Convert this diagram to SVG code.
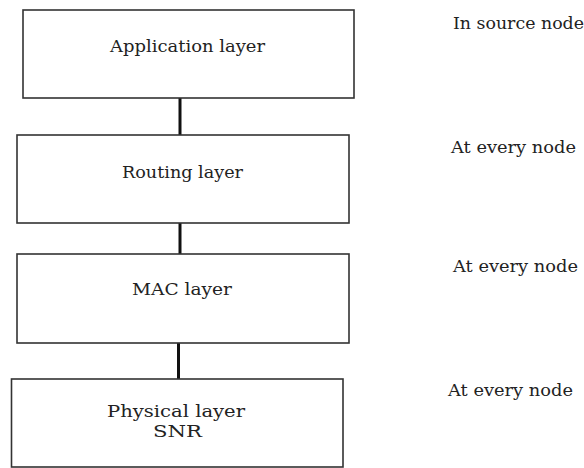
<svg xmlns="http://www.w3.org/2000/svg" width="584" height="468" viewBox="0 0 584 468">
  <style>
    .box { fill: #ffffff; stroke: #333333; stroke-width: 1.6; }
    .link { stroke: #111111; stroke-width: 3; fill: none; }
    text { font-family: 'DejaVu Serif', 'Liberation Serif', serif; font-size: 16.5px; fill: #222222; }
  </style>
  <rect x="0" y="0" width="584" height="468" fill="#ffffff"/>

  <!-- vertical links between the protocol layers -->
  <g id="connectors">
    <line class="link" x1="180" y1="98" x2="180" y2="135"/>
    <line class="link" x1="180" y1="223" x2="180" y2="254"/>
    <line class="link" x1="178.5" y1="343" x2="178.5" y2="379"/>
  </g>

  <g id="application">
    <rect class="box" x="23" y="10" width="331" height="88"/>
    <text x="110" y="52" textLength="155" lengthAdjust="spacingAndGlyphs">Application layer</text>
  </g>

  <g id="routing">
    <rect class="box" x="17" y="135" width="332" height="88"/>
    <text x="122" y="178" textLength="121" lengthAdjust="spacingAndGlyphs">Routing layer</text>
  </g>

  <g id="mac">
    <rect class="box" x="17" y="254" width="332" height="89"/>
    <text x="132" y="295" textLength="100" lengthAdjust="spacingAndGlyphs">MAC layer</text>
  </g>

  <g id="physical">
    <rect class="box" x="11.5" y="379" width="331.5" height="88"/>
    <text x="107" y="417" textLength="138" lengthAdjust="spacingAndGlyphs">Physical layer</text>
    <text x="153" y="437" textLength="49" lengthAdjust="spacingAndGlyphs">SNR</text>
  </g>

  <!-- where each layer runs -->
  <g id="scope-labels">
    <text x="453" y="29" textLength="131" lengthAdjust="spacingAndGlyphs">In source node</text>
    <text x="451" y="153" textLength="125" lengthAdjust="spacingAndGlyphs">At every node</text>
    <text x="453" y="272" textLength="125" lengthAdjust="spacingAndGlyphs">At every node</text>
    <text x="448" y="396" textLength="125" lengthAdjust="spacingAndGlyphs">At every node</text>
  </g>
</svg>
